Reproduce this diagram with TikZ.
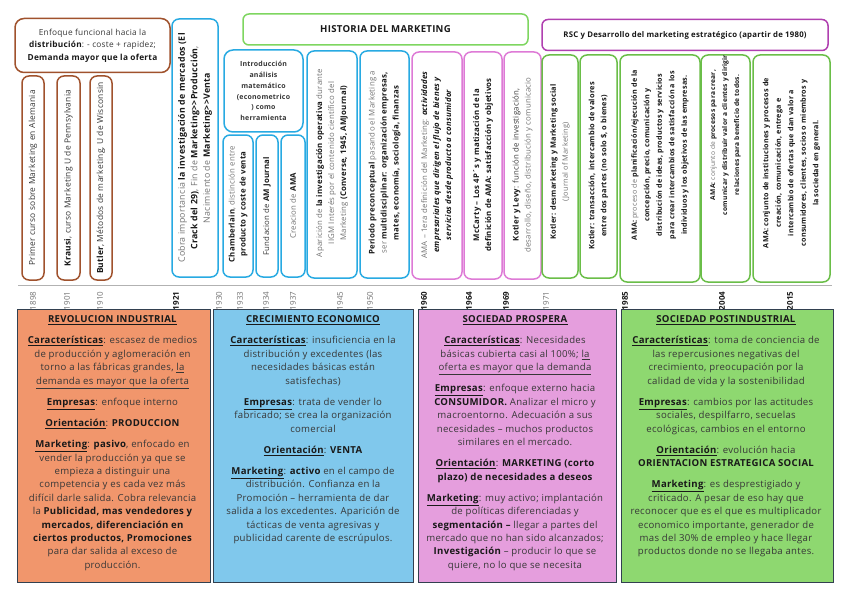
\documentclass[tikz,border=0pt]{standalone}
\usepackage{fontspec}
\setmainfont{Open Sans}[LetterSpace=3]
\definecolor{cbrown}{RGB}{160,82,45}
\definecolor{cblue}{RGB}{40,170,226}
\definecolor{cpink}{RGB}{222,122,214}
\definecolor{cmag}{RGB}{176,64,176}
\definecolor{cgreen}{RGB}{106,190,72}
\definecolor{cgreenT}{RGB}{126,214,96}
\definecolor{forange}{RGB}{241,150,108}
\definecolor{fblue}{RGB}{128,200,236}
\definecolor{fpink}{RGB}{229,158,221}
\definecolor{fgreen}{RGB}{142,216,112}
\definecolor{cframe}{RGB}{50,64,80}
\definecolor{ctext}{RGB}{55,55,55}
\definecolor{cdark}{RGB}{25,25,25}
\definecolor{cgrey}{RGB}{115,115,115}
\newcommand{\hb}[1]{{\bfseries\color{cdark}#1}}
\newcommand{\hbi}[1]{{\bfseries\itshape\color{cdark}#1}}
\newcommand{\myul}[1]{{\color{cdark}\underline{\textbf{#1}}}}
\newcommand{\fsz}[2]{\fontsize{#1}{#2}\selectfont}
\tikzset{
  cardframe/.style={draw, rounded corners=7pt, line width=1.5pt, rotate=90, inner sep=0pt},
  cardtext/.style={rotate=90, align=center, inner sep=0pt, text=cgrey},
  yr/.style={rotate=90, font=\fsz{8}{9}, text=cgrey, inner sep=0pt},
  yrb/.style={rotate=90, font=\fsz{8}{9}\bfseries, text=cdark, inner sep=0pt},
  panel/.style={draw=cframe, line width=1pt, inner sep=0pt, minimum height=273},
  paneltext/.style={anchor=north, align=center, inner sep=0pt, text=ctext, font=\fsz{9.6}{13.4}},
  hbox/.style={draw, line width=1.5pt, inner sep=0pt, align=center}
}
% name, colour, x1, x2, y1, y2, text centre y, font, text
\newcommand{\card}[9]{%
  \node[cardframe, draw=#2, minimum width={(#6-#5)*1pt}, minimum height={(#4-#3)*1pt}] (#1) at ({(#3+#4)/2},{(#5+#6)/2}) {};
  \node[cardtext, font=#8] (#1-t) at ({(#3+#4)/2},#7) {#9};}
\begin{document}
\begin{tikzpicture}[x=1pt,y=-1pt]
\useasboundingbox (0,0) rectangle (848,599);
\fill[white] (0,0) rectangle (848,599);

% ---- header boxes
\node[hbox, draw=cbrown, rounded corners=9pt, minimum width=155, minimum height=54, font=\fsz{8.3}{12.5}, text=ctext] (enf) at (92.5,45.5)
  {Enfoque funcional hacia la\\ \hb{distribución}: - coste + rapidez;\\ \hb{Demanda mayor que la oferta}};
\node[hbox, draw=cgreenT, rounded corners=6pt, minimum width=285, minimum height=31, font=\fsz{9.6}{11}\bfseries, text=cdark] (title) at (385.5,29.5) {HISTORIA DEL MARKETING};
\node[hbox, draw=cmag, rounded corners=6pt, minimum width=286, minimum height=31, font=\fsz{7.8}{9}\bfseries, text=cdark] (rsc) at (685,35) {RSC y Desarrollo del marketing estratégico (apartir de 1980)};
\node[hbox, draw=cblue, rounded corners=9pt, minimum width=79, minimum height=82, font=\fsz{7}{10.8}\bfseries, text=ctext] (intro) at (263.5,91)
  {Introducción\\análisis\\matemático\\(econometrico\\) como\\herramienta};

% ---- vertical cards
\card{c1}{cbrown}{22}{44}{76}{280}{178}{\fsz{8.4}{12}}{\color{ctext}Primer curso sobre Marketing en Alemania}
\card{c2}{cbrown}{57}{80}{76}{280}{178}{\fsz{8.4}{12}}{\color{ctext}\hb{Krausi}, curso Marketing U de Pennsylvania}
\card{c3}{cbrown}{90}{112}{76}{280}{178}{\fsz{8.4}{12}}{\color{ctext}\hb{Butler}, Métodos de marketing, U de Wisconsin}
\card{c4}{cblue}{172}{218}{19}{277}{148}{\fsz{8.8}{12.5}}{Cobra importancia \hb{la investigación de mercados (El}\\ \hb{Crack del 29)}, Fin de \hb{Marketing>{}>Producción},\\ Nacimiento de \hb{Marketing>{}>Venta}}
\card{c6}{cblue}{223}{253}{135}{277}{204}{\fsz{7.8}{11}}{\hb{Chamberlain}, distinción entre\\ \hb{producto y coste de venta}}
\card{c7}{cblue}{256}{278}{135}{277}{206}{\fsz{7.8}{11}}{\color{ctext}Fundacion de \hb{AM Journal}}
\card{c8}{cblue}{281}{305}{135}{277}{206}{\fsz{7.8}{11}}{Creacion de \hb{AMA}}
\card{c9}{cblue}{307}{357}{51}{278}{163}{\fsz{7.8}{12}}{Aparición de \hb{la investigación operativa} durante\\ IIGM Interés por el contenido científico del\\ Marketing \hb{(Converse, 1945, AMJournal)}}
\card{c10}{cblue}{360}{409}{51}{278}{163}{\fsz{7.8}{12}}{\hb{Periodo preconceptual} pasando el Marketing a\\ ser \hb{multidisciplinar: organización empresas,}\\ \hb{mates, economía, sociología, finanzas}}
\card{c11}{cpink}{412}{462}{52}{279}{165}{\fsz{7.8}{12}}{AMA – 1era definición del Marketing: \hbi{actividades}\\ \hbi{empresariales que dirigen el flujo de bienes y}\\ \hbi{servicios desde producto a consumidor}}
\card{c12}{cpink}{464}{502}{52}{279}{165}{\fsz{7.8}{12}}{\hb{McCarty – Los 4P´s y matización de la}\\ \hb{definición de AMA: satisfacción y objetivos}}
\card{c13}{cpink}{504}{541}{52}{279}{165}{\fsz{7.8}{12}}{\color{ctext}\hb{Kotler y Levy}: función de investigación,\\ desarrollo, diseño, distribución y comunicacio}
\card{c14}{cgreen}{542}{578}{55}{278}{162}{\fsz{7.4}{12}}{\hb{Kotler: desmarketing y Marketing social}\\ (Journal of Marketing)}
\card{c15}{cgreen}{580}{617}{55}{278}{166}{\fsz{7.4}{12}}{\hb{Kotler: transacción, intercambio de valores}\\ \hb{entre dos partes (no solo \$, o bienes)}}
\card{c16}{cgreen}{620}{700}{55}{282}{155}{\fsz{7.2}{12.5}}{\hb{AMA:} proceso de \hb{planificación/ejecución de la}\\ \hb{concepción, precio, comunicación y}\\ \hb{distribución de ideas, productos y servicios}\\ \hb{para crear intercambios de satisfacción a los}\\ \hb{individuos y los objetivos de las empresas.}}
\card{c17}{cgreen}{701}{750}{55}{282}{135}{\fsz{6.6}{12}}{\hb{AMA:} conjunto de \hb{procesos para crear,}\\ \hb{comunicar y distribuir valor a clientes y dirigir}\\ \hb{relaciones para beneficio de todos.}}
\card{c18}{cgreen}{753}{830}{55}{282}{163}{\fsz{7.2}{12.5}}{\hb{AMA: conjunto de instituciones y procesos de}\\ \hb{creación, comunicación, entrega e}\\ \hb{intercambio de ofertas que dan valor a}\\ \hb{consumidores, clientes, socios o miembros y}\\ \hb{la sociedad en general.}}

% ---- timeline
\draw[gray!60, line width=0.8pt] (18,285) -- (832,285);
\foreach \x/\yy in {33/1898, 67/1901, 100/1910, 219/1930, 240/1933, 266/1934, 293/1937, 340/1945, 370/1950, 546/1971}
  \node[yr] (y\yy) at (\x,301) {\yy};
\foreach \x/\yy in {176/1921, 424/1960, 469/1964, 506/1969, 625/1985, 722/2004, 790/2015}
  \node[yrb] (y\yy) at (\x,301) {\yy};

% ---- bottom panels
\node[panel, fill=forange, minimum width=193] (p1) at (113.5,445.5) {};
\node[panel, fill=fblue, minimum width=200] (p2) at (313.5,445.5) {};
\node[panel, fill=fpink, minimum width=198] (p3) at (517,445.5) {};
\node[panel, fill=fgreen, minimum width=212] (p4) at (727,445.5) {};

\node[paneltext] (p1t) at (112.5,315.5) {%
\myul{REVOLUCION INDUSTRIAL}\\[7.8pt]
\myul{Características}: escasez de medios\\
de producción y aglomeración en\\
torno a las fábricas grandes, \underline{la}\\
\underline{demanda es mayor que la oferta}\\[7.8pt]
\myul{Empresas}: enfoque interno\\[7.8pt]
\myul{Orientación}: \hb{PRODUCCION}\\[7.8pt]
\myul{Marketing}: \hb{pasivo}, enfocado en\\
vender la producción ya que se\\
empieza a distinguir una\\
competencia y es cada vez más\\
difícil darle salida. Cobra relevancia\\
la \hb{Publicidad, mas vendedores y}\\
\hb{mercados, diferenciación en}\\
\hb{ciertos productos, Promociones}\\
para dar salida al exceso de\\
producción.};

\node[paneltext] (p2t) at (313,315.5) {%
\myul{CRECIMIENTO ECONOMICO}\\[7.8pt]
\myul{Características}: insuficiencia en la\\
distribución y excedentes (las\\
necesidades básicas están\\
satisfechas)\\[7.8pt]
\myul{Empresas}: trata de vender lo\\
fabricado; se crea la organización\\
comercial\\[7.8pt]
\myul{Orientación}: \hb{VENTA}\\[7.8pt]
\myul{Marketing}: \hb{activo} en el campo de\\
distribución. Confianza en la\\
Promoción – herramienta de dar\\
salida a los excedentes. Aparición de\\
tácticas de venta agresivas y\\
publicidad carente de escrúpulos.};

\node[paneltext] (p3t) at (515,315.5) {%
\myul{SOCIEDAD PROSPERA}\\[7.8pt]
\myul{Características}: Necesidades\\
básicas cubierta casi al 100\%; \underline{la}\\
\underline{oferta es mayor que la demanda}\\[7.8pt]
\myul{Empresas}: enfoque externo hacia\\
\hb{CONSUMIDOR.} Analizar el micro y\\
macroentorno. Adecuación a sus\\
necesidades – muchos productos\\
similares en el mercado.\\[7.8pt]
\myul{Orientación}: \hb{MARKETING (corto}\\
\hb{plazo) de necesidades a deseos}\\[7.8pt]
\myul{Marketing}: muy activo; implantación\\
de políticas diferenciadas y\\
\hb{segmentación –} llegar a partes del\\
mercado que no han sido alcanzados;\\
\hb{Investigación} – producir lo que se\\
quiere, no lo que se necesita};

\node[paneltext] (p4t) at (726,315.5) {%
\myul{SOCIEDAD POSTINDUSTRIAL}\\[7.8pt]
\myul{Características}: toma de conciencia de\\
las repercusiones negativas del\\
crecimiento, preocupación por la\\
calidad de vida y la sostenibilidad\\[7.8pt]
\myul{Empresas}: cambios por las actitudes\\
sociales, despilfarro, secuelas\\
ecológicas, cambios en el entorno\\[7.8pt]
\myul{Orientación}: evolución hacia\\
\hb{ORIENTACION ESTRATEGICA SOCIAL}\\[7.8pt]
\myul{Marketing}: es desprestigiado y\\
criticado. A pesar de eso hay que\\
reconocer que es el que es multiplicador\\
economico importante, generador de\\
mas del 30\% de empleo y hace llegar\\
productos donde no se llegaba antes.};
\end{tikzpicture}
\end{document}
